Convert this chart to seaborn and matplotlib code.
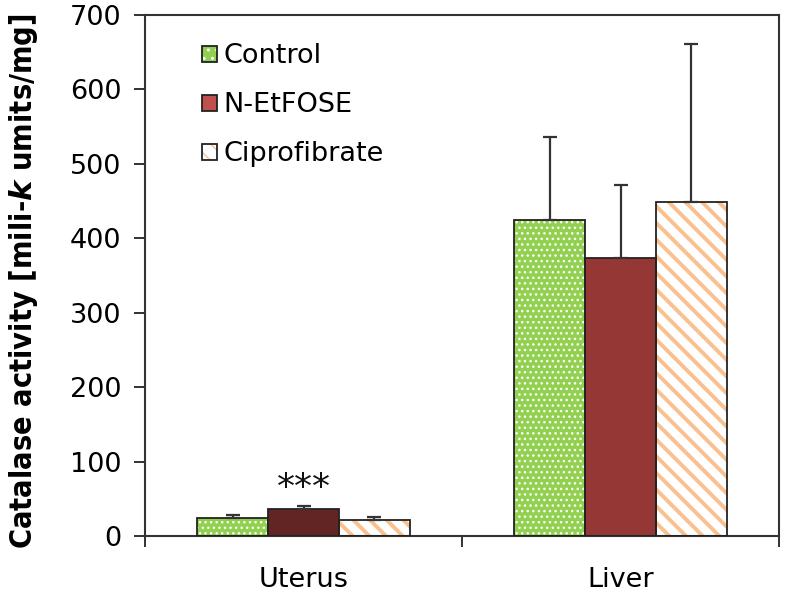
import matplotlib
matplotlib.use("Agg")
import matplotlib.pyplot as plt
import matplotlib.patches as mpatches
from matplotlib.legend_handler import HandlerTuple
import seaborn as sns
import pandas as pd

# ---- data ----
tissues = ["Uterus", "Liver"]
groups = ["Control", "N-EtFOSE", "Ciprofibrate"]
control_vals = [24, 424]
netfose_vals = [36, 373]
cipro_vals = [21, 449]
control_err = [4, 112]
netfose_err = [4, 99]
cipro_err = [4, 212]
significance = {("Uterus", "N-EtFOSE"): "***"}

sns.set_theme(style="white")
plt.rcParams["font.family"] = ["DejaVu Sans"]
plt.rcParams["mathtext.fontset"] = "custom"
plt.rcParams["mathtext.it"] = "DejaVu Sans:italic:bold"
plt.rcParams["mathtext.rm"] = "DejaVu Sans:bold"

rows = []
vals = {"Control": control_vals, "N-EtFOSE": netfose_vals, "Ciprofibrate": cipro_vals}
errs = {"Control": control_err, "N-EtFOSE": netfose_err, "Ciprofibrate": cipro_err}
for g in groups:
    for t, v, e in zip(tissues, vals[g], errs[g]):
        rows.append({"tissue": t, "group": g, "value": v, "err": e})
df = pd.DataFrame(rows)

fig = plt.figure(figsize=(7.86, 5.95), dpi=100)
ax = fig.add_axes([145 / 786, (595 - 536) / 595, (779 - 145) / 786, (536 - 15) / 595])

green = "#92D050"
red_dark = "#632523"
red_liver = "#953735"
red_leg = "#C0504D"
orange = "#FAC090"

sns.barplot(data=df, x="tissue", y="value", hue="group", order=tissues,
            hue_order=groups, palette=[green, red_liver, "white"],
            width=0.67, gap=0, errorbar=None, saturation=1, legend=False,
            ax=ax)

bars = sorted([p for p in ax.patches if p.get_width() > 0], key=lambda p: p.get_x())
order = [(t, g) for t in tissues for g in groups]
for p, (t, g) in zip(bars, order):
    r = df[(df.tissue == t) & (df.group == g)].iloc[0]
    x = p.get_x() + p.get_width() / 2
    h = p.get_height()
    if g == "Control":
        p.set_facecolor(green)
        p.set_edgecolor("white")
        p.set_hatch("...")
        p.set_linewidth(0)
        if hasattr(p, "set_hatch_linewidth"):
            p.set_hatch_linewidth(1.0)
    elif g == "N-EtFOSE":
        p.set_facecolor(red_dark if t == "Uterus" else red_liver)
        p.set_linewidth(0)
    else:
        p.set_facecolor("white")
        p.set_edgecolor(orange)
        p.set_hatch("\\\\")
        p.set_linewidth(0)
        if hasattr(p, "set_hatch_linewidth"):
            p.set_hatch_linewidth(2.8)
    ax.add_patch(mpatches.Rectangle((p.get_x(), p.get_y()), p.get_width(), h,
                                    fill=False, edgecolor="#222222", linewidth=1.3, zorder=3))
    ax.errorbar(x, h, yerr=[[0], [r.err]], fmt="none", ecolor="#333333",
                elinewidth=1.6, capsize=5, capthick=1.6, zorder=4)
    if (t, g) in significance:
        ax.text(x, h + r.err + 1, significance[(t, g)], ha="center", va="bottom",
                fontsize=26, color="#111111")

ax.set_ylim(0, 700)
ax.set_xlim(-0.5, 1.5)
ax.set_yticks(range(0, 701, 100))
ax.tick_params(axis="y", which="major", direction="out", length=8, width=1.3,
               left=True, labelsize=19.5, pad=9, colors="#222222", labelcolor="black")
ax.set_xticks([0, 1])
ax.set_xticklabels(tissues)
ax.set_xticks([-0.5, 0.5, 1.5], minor=True)
ax.tick_params(axis="x", which="major", length=0, labelsize=19.5, pad=22, labelcolor="black")
ax.tick_params(axis="x", which="minor", direction="out", length=8, width=1.3,
               bottom=True, colors="#222222")
for s in ax.spines.values():
    s.set_visible(True)
    s.set_color("#333333")
    s.set_linewidth(1.5)
ax.set_xlabel("")
ax.set_ylabel(r"Catalase activity [mili-$\mathit{k}$ umits/mg]",
              fontsize=22, fontweight="bold", fontstretch="condensed", color="black")
ax.yaxis.set_label_coords(-0.166, 0.49)

def lh(g):
    if g == "Control":
        a = mpatches.Rectangle((0, 0), 1, 1, facecolor=green, edgecolor="white", hatch="..", linewidth=0)
    elif g == "N-EtFOSE":
        a = mpatches.Rectangle((0, 0), 1, 1, facecolor=red_leg, linewidth=0)
    else:
        a = mpatches.Rectangle((0, 0), 1, 1, facecolor="white", edgecolor=orange, hatch="\\\\", linewidth=0)
        if hasattr(a, "set_hatch_linewidth"):
            a.set_hatch_linewidth(2.8)
    b = mpatches.Rectangle((0, 0), 1, 1, fill=False, edgecolor="#222222", linewidth=1.3)
    return (a, b)

ax.legend([lh(g) for g in groups], groups, handler_map={tuple: HandlerTuple(ndivide=1, pad=0)},
          loc="upper left", bbox_to_anchor=(0.06, 0.982), frameon=False, fontsize=19.5,
          handlelength=0.55, handleheight=0.55, handletextpad=0.25, labelspacing=0.85,
          borderpad=0.2, labelcolor="black")

fig.savefig("out.png", dpi=100)
